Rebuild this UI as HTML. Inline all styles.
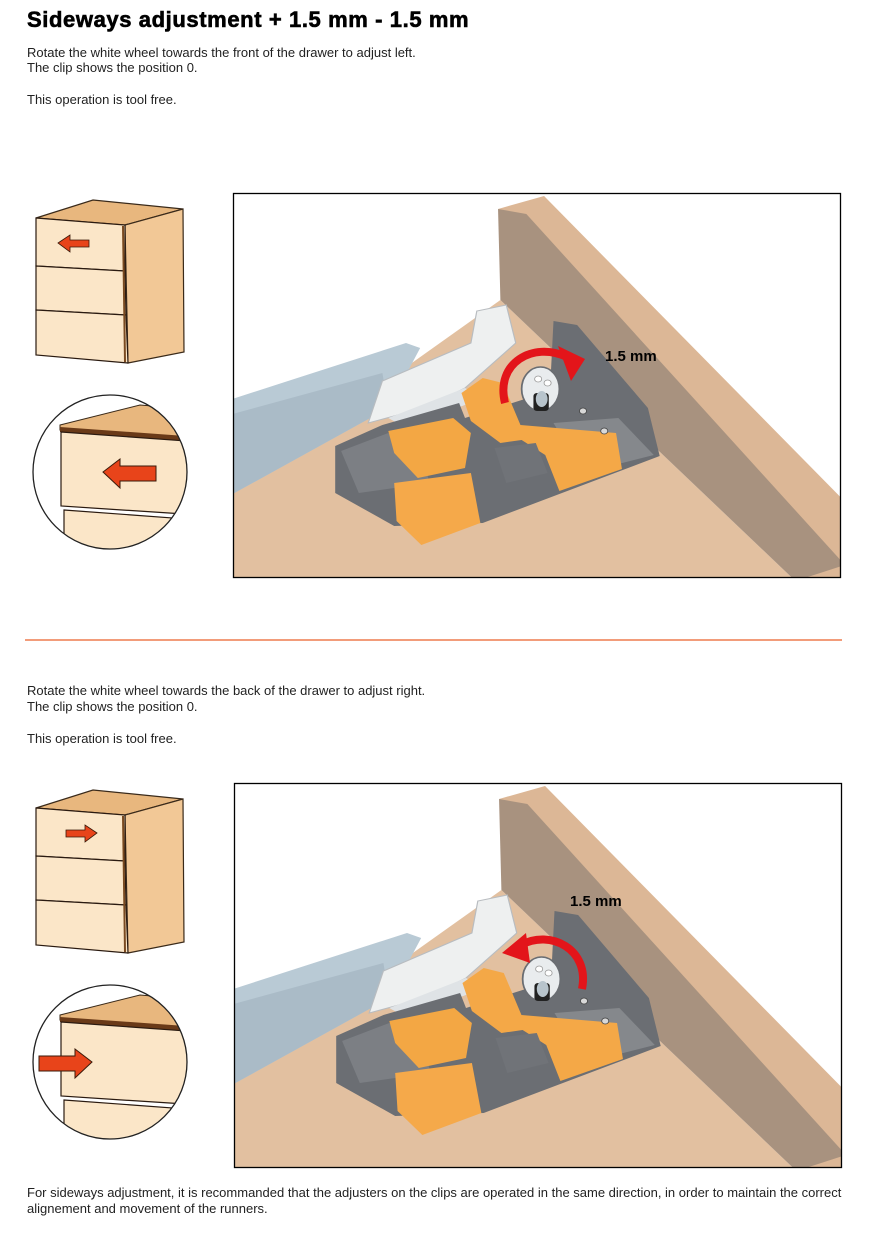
<!DOCTYPE html>
<html><head><meta charset="utf-8"><style>
html,body{margin:0;padding:0;background:#fff;}
svg{display:block;}
text{font-family:"Liberation Sans",sans-serif;}
</style></head><body>
<svg width="872" height="1233" viewBox="0 0 872 1233" xmlns="http://www.w3.org/2000/svg">
<defs>
  <clipPath id="pc"><rect x="0" y="0" width="608" height="385"/></clipPath>
  <g id="scene">
    <rect x="0" y="0" width="608" height="385" fill="#fff"/>
    <g clip-path="url(#pc)">
     <g transform="matrix(1.18,0,0,1,-4,0)">
      <polygon points="0,300 230,107 480,388 0,388" fill="#e2c0a0"/>
      <polygon points="228,16 267,3 519,305 519,388 480,388" fill="#dcb796"/>
      <polygon points="228,16 252,21 522,372 480,388 230,107" fill="#a8927f"/>
      <polygon points="0,207 150,150 162,155 135,215 0,303" fill="#b9cad5"/>
      <polygon points="0,222 130,180 135,215 0,303" fill="#aabbc7"/>
      <polygon points="118,230 130,188 205,150 210,118 235,112 243,150 200,195 165,215" fill="#eef0f0" stroke="#b8bcc0" stroke-width="1"/>
      <polygon points="135,225 200,195 215,205 150,235" fill="#dfe3e6"/>
      <polygon points="90,253 130,232 195,210 200,225 272,198 275,128 295,132 355,215 365,263 215,330 140,333 90,300" fill="#6b6e73"/>
      <polygon points="95,258 135,240 160,246 170,290 110,300" fill="#7c7f84"/>
      <polygon points="275,230 330,225 360,262 300,280" fill="#85888c"/>
      <polygon points="135,238 190,225 205,240 200,275 160,285 140,260" fill="#f3a744"/>
      <polygon points="197,200 215,185 232,190 247,232 328,240 333,276 280,298 268,262 248,247 230,250 205,228" fill="#f4a847"/>
      <polygon points="140,290 205,280 213,330 163,352 142,328" fill="#f5a94a"/>
      <polygon points="225,255 260,250 270,280 235,290" fill="#707378"/>
      <ellipse cx="264" cy="196" rx="16" ry="22" fill="#e9ecee" stroke="#6a6d72" stroke-width="1.5"/>
      <rect x="258" y="200" width="13" height="18" fill="#222" rx="3"/>
      <ellipse cx="265" cy="206" rx="5" ry="8" fill="#b8c4cc"/>
      <circle cx="262" cy="186" r="3" fill="#fff" stroke="#999" stroke-width="0.7"/>
      <circle cx="270" cy="190" r="3" fill="#fff" stroke="#999" stroke-width="0.7"/>
      <circle cx="300" cy="218" r="3" fill="#d8d8d8" stroke="#444" stroke-width="0.7"/>
      <circle cx="318" cy="238" r="3" fill="#d8d8d8" stroke="#444" stroke-width="0.7"/>
     </g>
    </g>
    <rect x="0.5" y="0.5" width="607" height="384" fill="none" stroke="#000" stroke-width="1.3"/>
  </g>
  <g id="cab">
    <polygon points="36,218 93,200 183,209 125,225" fill="#e8b77e" stroke="#3a2a1a" stroke-width="1.2"/>
    <polygon points="125,225 183,209 184,352 128,363" fill="#f2c896" stroke="#3a2a1a" stroke-width="1.2"/>
    <polygon points="36,218 125,225 125,271 36,266" fill="#fbe6c8" stroke="#2a1a10" stroke-width="1.2"/>
    <polygon points="36,266 125,271 126,315 36,310" fill="#fbe6c8" stroke="#2a1a10" stroke-width="1.2"/>
    <polygon points="36,310 126,315 128,363 36,355" fill="#fbe6c8" stroke="#2a1a10" stroke-width="1.2"/>
    <line x1="123" y1="226" x2="125" y2="362" stroke="#7a4a20" stroke-width="2"/>
  </g>
  <clipPath id="cc"><circle cx="110" cy="472" r="77"/></clipPath>
  <g id="circ">
    <circle cx="110" cy="472" r="77" fill="#fff"/>
    <g clip-path="url(#cc)">
      <polygon points="60,425 140,405 200,410 200,440 60,430" fill="#e8b77e" stroke="#3a2a1a" stroke-width="1"/>
      <polygon points="60,427 200,437 200,442 60,432" fill="#6a3a18"/>
      <polygon points="61,432 200,442 200,515 61,506" fill="#fbe6c8" stroke="#2a1a10" stroke-width="1.2"/>
      <polygon points="64,510 200,520 200,560 64,560" fill="#fbe6c8" stroke="#2a1a10" stroke-width="1.2"/>
    </g>
    <circle cx="110" cy="472" r="77" fill="none" stroke="#222" stroke-width="1.3"/>
  </g>
</defs>

<text x="27" y="27" font-size="22" font-weight="bold" fill="#000" letter-spacing="0.6" stroke="#000" stroke-width="0.6">Sideways adjustment + 1.5 mm - 1.5 mm</text>
<text x="27" y="57" font-size="13" fill="#222">Rotate the white wheel towards the front of the drawer to adjust left.</text>
<text x="27" y="72" font-size="13" fill="#222">The clip shows the position 0.</text>
<text x="27" y="104" font-size="13" fill="#222">This operation is tool free.</text>

<use href="#cab"/>
<polygon points="58,243 70,235 70,240 89,240 89,247 70,247 70,252" fill="#e8441a" stroke="#3a1a0a" stroke-width="0.8"/>
<use href="#circ"/>
<polygon points="103,472 120,459 120,466 156,466 156,481 120,481 120,488" fill="#e8441a" stroke="#3a1a0a" stroke-width="1"/>
<g transform="translate(233,193)">
  <use href="#scene"/>
  <path d="M272,210 C262,170 300,148 334,164" fill="none" stroke="#e3151a" stroke-width="8"/>
  <polygon points="325,153 352,166 338,188" fill="#e3151a"/>
  <text x="372" y="168" font-size="15" font-weight="bold" fill="#000">1.5 mm</text>
</g>

<line x1="25" y1="640" x2="842" y2="640" stroke="#ee7c4e" stroke-width="1.5"/>

<text x="27" y="695" font-size="13" fill="#222">Rotate the white wheel towards the back of the drawer to adjust right.</text>
<text x="27" y="711" font-size="13" fill="#222">The clip shows the position 0.</text>
<text x="27" y="743" font-size="13" fill="#222">This operation is tool free.</text>

<g transform="translate(0,590)">
  <use href="#cab"/>
  <polygon points="97,243 85,235 85,240 66,240 66,247 85,247 85,252" fill="#e8441a" stroke="#3a1a0a" stroke-width="0.8"/>
  <use href="#circ"/>
  <polygon points="92,472 75,459 75,466 39,466 39,481 75,481 75,488" fill="#e8441a" stroke="#3a1a0a" stroke-width="1"/>
</g>
<g transform="translate(234,783)">
  <use href="#scene"/>
  <path d="M348,206 C356,166 316,146 287,162" fill="none" stroke="#e3151a" stroke-width="8"/>
  <polygon points="292,150 268,170 296,180" fill="#e3151a"/>
  <text x="336" y="123" font-size="15" font-weight="bold" fill="#000">1.5 mm</text>
</g>

<text x="27" y="1197" font-size="13" fill="#222">For sideways adjustment, it is recommanded that the adjusters on the clips are operated in the same direction, in order to maintain the correct</text>
<text x="27" y="1213" font-size="13" fill="#222">alignement and movement of the runners.</text>
</svg>
</body></html>
